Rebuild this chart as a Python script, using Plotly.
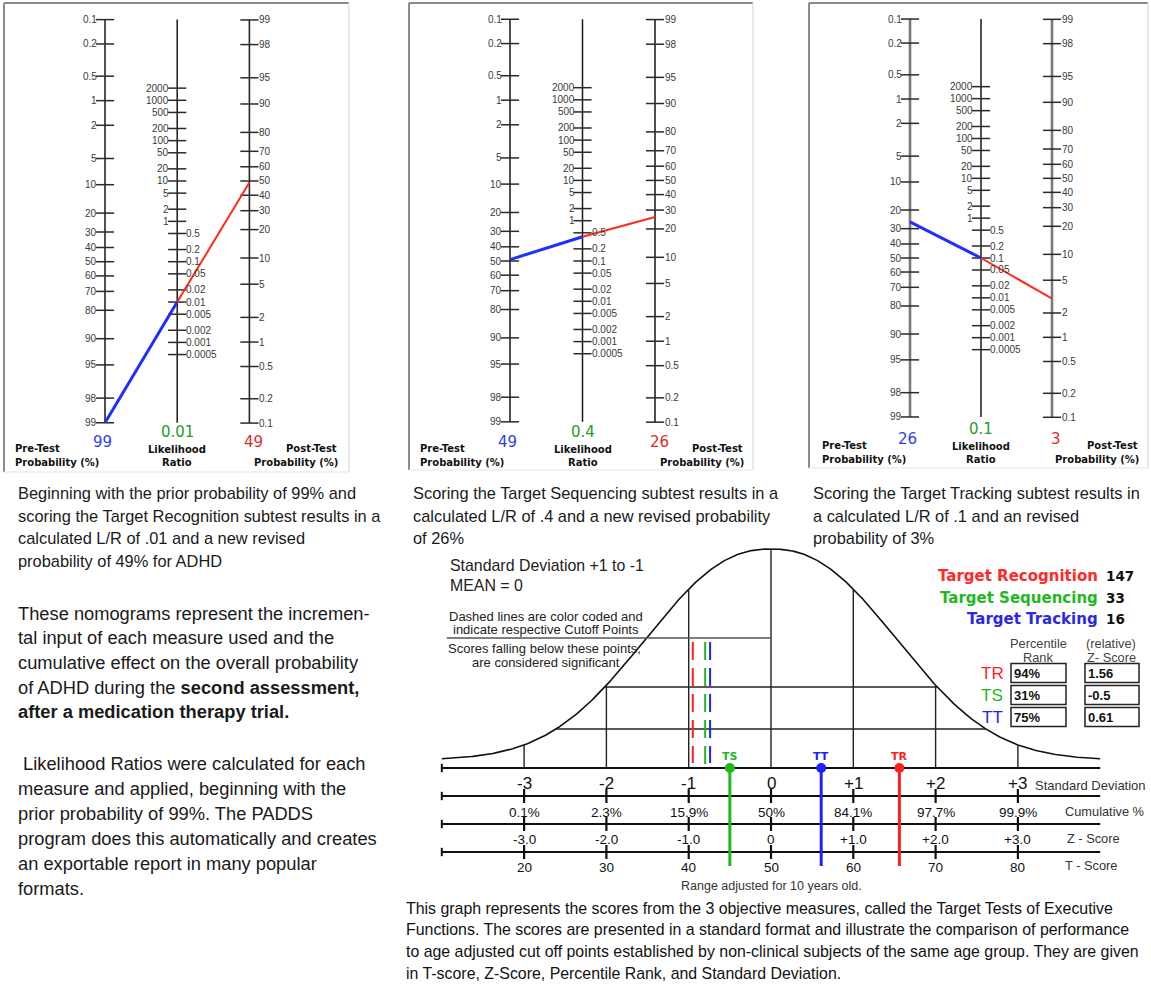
import math
import numpy as np
import plotly.graph_objects as go

W, H = 1151, 989
SANS = "Liberation Sans, Arial, sans-serif"
VERD = "DejaVu Sans, Verdana, sans-serif"

# ---------------- data ----------------
pre_ticks = [0.1, 0.2, 0.5, 1, 2, 5, 10, 20, 30, 40, 50, 60, 70, 80, 90, 95, 98, 99]
post_ticks = [99, 98, 95, 90, 80, 70, 60, 50, 40, 30, 20, 10, 5, 2, 1, 0.5, 0.2, 0.1]
lr_ticks_hi = [2000, 1000, 500, 200, 100, 50, 20, 10, 5, 2, 1]
lr_ticks_lo = [0.5, 0.2, 0.1, 0.05, 0.02, 0.01, 0.005, 0.002, 0.001, 0.0005]

pre_test = [99, 49, 26]
likelihood_ratio = [0.01, 0.4, 0.1]
lr_text = ["0.01", "0.4", "0.1"]
post_test = [49, 26, 3]

sd_ticks = [-3, -2, -1, 0, 1, 2, 3]
sd_labels = ["-3", "-2", "-1", "0", "+1", "+2", "+3"]
cum_labels = ["0.1%", "2.3%", "15.9%", "50%", "84.1%", "97.7%", "99.9%"]
z_labels = ["-3.0", "-2.0", "-1.0", "0", "+1.0", "+2.0", "+3.0"]
t_labels = ["20", "30", "40", "50", "60", "70", "80"]

tests = ["Target Recognition", "Target Sequencing", "Target Tracking"]
test_codes = ["TR", "TS", "TT"]
raw_scores = [147, 33, 16]
percentile_rank = ["94%", "31%", "75%"]
z_scores = [1.56, -0.5, 0.61]
z_text = ["1.56", "-0.5", "0.61"]
cutoffs = [-0.95, -0.80, -0.74]

captions = [
    ["Beginning with the prior probability of 99% and",
     "scoring the Target Recognition subtest results in a",
     "calculated L/R of .01 and a new revised",
     "probability of 49% for ADHD"],
    ["Scoring the Target Sequencing subtest results in a",
     "calculated L/R of .4 and a new revised probability",
     "of 26%"],
    ["Scoring the Target Tracking subtest results in",
     "a calculated L/R of .1 and an revised",
     "probability of 3%"],
]
para2 = ["These nomograms represent the incremen-",
         "tal input of each measure used and the",
         "cumulative effect on the overall probability",
         "of ADHD during the <b>second assessment,</b>",
         "<b>after a medication therapy trial.</b>"]
para3 = ["&nbsp;Likelihood Ratios were calculated for each",
         "measure and applied, beginning with the",
         "prior probability of 99%. The PADDS",
         "program does this automatically and creates",
         "an exportable report in many popular",
         "formats."]
bottom_para = ["This graph represents the scores from the 3 objective measures, called the Target Tests of Executive",
               "Functions. The scores are presented in a standard format and illustrate the comparison of performance",
               "to age adjusted cut off points established by non-clinical subjects of the same age group. They are given",
               "in T-score, Z-Score, Percentile Rank, and Standard Deviation."]

RED, GREEN, BLUE = "#ff1f1f", "#1fb81f", "#1f1fff"
test_colors = [RED, GREEN, BLUE]

# ---------------- axes helpers ----------------
fig = go.Figure()
layout_axes = {}
ann = []
shapes = []


def add_axes(idx, px0, sx, py0, sy):
    xr = [(0 - px0) / sx, (W - px0) / sx]
    yr = [(H - py0) / sy, (0 - py0) / sy]
    xk = "xaxis" if idx == 1 else f"xaxis{idx}"
    yk = "yaxis" if idx == 1 else f"yaxis{idx}"
    xd = dict(range=xr, domain=[0, 1], visible=False, fixedrange=True)
    yd = dict(range=yr, domain=[0, 1], visible=False, fixedrange=True)
    if idx != 1:
        xd.update(overlaying="x", anchor=f"y{idx}")
        yd.update(overlaying="y", anchor=f"x{idx}")
    layout_axes[xk] = xd
    layout_axes[yk] = yd
    return ("x" if idx == 1 else f"x{idx}", "y" if idx == 1 else f"y{idx}")


def T(x, y, text, size=12, color="#222", xa="left", ya="middle", xref="x", yref="y",
      family=SANS, bold=False, xshift=0, yshift=0):
    if bold:
        text = f"<b>{text}</b>"
    ann.append(dict(x=x, y=y, xref=xref, yref=yref, text=text, showarrow=False,
                    xanchor=xa, yanchor=ya, xshift=xshift, yshift=yshift,
                    font=dict(size=size, color=color, family=family)))


def line(x, y, xr, yr, color="#000", width=1.5, dash=None):
    fig.add_trace(go.Scatter(x=x, y=y, xaxis=xr, yaxis=yr, mode="lines",
                             line=dict(color=color, width=width, dash=dash),
                             hoverinfo="skip", showlegend=False))


def seg(x0, y0, x1, y1, color, width, xref="x", yref="y"):
    shapes.append(dict(type="line", x0=x0, y0=y0, x1=x1, y1=y1, xref=xref, yref=yref,
                       line=dict(color=color, width=width)))


# pixel base axis
PX, PY = add_axes(1, 0, 1, 0, 1)

# ---------------- nomograms ----------------
LN10 = math.log(10)


def logit(p):
    return math.log(p / (100.0 - p))


def u_pre(p):
    return logit(p)


def u_post(p):
    return -LN10 - logit(p)


def u_lr(r):
    return -(LN10 + math.log(r)) / 2


panels = [
    dict(x0=105, dx=72.2, y0=261.7, k=35.05, frame=(4, 3, 349, 472), dy=0,
         side_col="#262626", side_w=1.6),
    dict(x0=510, dx=72.5, y0=261.0, k=35.0, frame=(409, 3, 753, 470), dy=0,
         side_col="#303030", side_w=1.7),
    dict(x0=910, dx=71.0, y0=258.0, k=34.6, frame=(809, 3, 1148, 468), dy=-3,
         side_col="#7a7a7a", side_w=2.6),
]

for i, pn in enumerate(panels):
    xr, yr = add_axes(i + 2, pn["x0"], pn["dx"], pn["y0"], pn["k"])
    fx0, fy0, fx1, fy1 = pn["frame"]
    seg(fx0, fy0, fx1, fy0, "#8c8c8c", 2)
    seg(fx0, fy0, fx0, fy1, "#8c8c8c", 2)
    seg(fx1, fy0, fx1, fy1, "#e2e2e2", 1.5)
    seg(fx0, fy1, fx1, fy1, "#ececec", 1.5)

    top, bot = u_pre(min(pre_ticks)), u_pre(max(pre_ticks))
    line([0, 0], [top, bot], xr, yr, pn["side_col"], pn["side_w"])
    line([1, 1], [top, bot], xr, yr, "#1a1a1a", 1.5)
    line([2, 2], [u_post(max(post_ticks)), u_post(min(post_ticks))], xr, yr, pn["side_col"], pn["side_w"])

    tick_sets = [
        ([0] * len(pre_ticks), [u_pre(v) for v in pre_ticks]),
        ([1] * len(lr_ticks_hi + lr_ticks_lo), [u_lr(v) for v in lr_ticks_hi + lr_ticks_lo]),
        ([2] * len(post_ticks), [u_post(v) for v in post_ticks]),
    ]
    for tx, ty in tick_sets:
        fig.add_trace(go.Scatter(x=tx, y=ty, xaxis=xr, yaxis=yr, mode="markers",
                                 marker=dict(symbol="line-ew", size=13,
                                             line=dict(color="#2a2a2a", width=1.5)),
                                 hoverinfo="skip", showlegend=False))
    for v in pre_ticks:
        T(0, u_pre(v), f"{v:g}", 10, "#3a3a3a", "right", xref=xr, yref=yr, xshift=-6)
    for v in lr_ticks_hi:
        T(1, u_lr(v), f"{v:g}", 10, "#3a3a3a", "right", xref=xr, yref=yr, xshift=-6)
    for v in lr_ticks_lo:
        T(1, u_lr(v), f"{v:g}", 10, "#3a3a3a", "left", xref=xr, yref=yr, xshift=7)
    for v in post_ticks:
        T(2, u_post(v), f"{v:g}", 10, "#3a3a3a", "left", xref=xr, yref=yr, xshift=8)

    # result lines
    line([0, 1], [u_pre(pre_test[i]), u_lr(likelihood_ratio[i])], xr, yr, "#1f2fff", 3)
    line([1, 2], [u_lr(likelihood_ratio[i]), u_post(post_test[i])], xr, yr, "#ff2a1a", 2)

    dy = pn["dy"]
    T(-1.27, 448 + dy, "Pre-Test", 10, "#111", "left", xref=xr, yref=PY, family=VERD, bold=True)
    T(-1.27, 462 + dy, "Probability (%)", 10, "#111", "left", xref=xr, yref=PY, family=VERD, bold=True)
    T(-0.04, 442 + dy, f"{pre_test[i]}", 15, "#2f3fe6", "center", xref=xr, yref=PY, family=VERD)
    T(1, 432 + dy, lr_text[i], 15, "#2a9a2a", "center", xref=xr, yref=PY, family=VERD)
    T(1, 449 + dy, "Likelihood", 10, "#111", "center", xref=xr, yref=PY, family=VERD, bold=True)
    T(1, 462 + dy, "Ratio", 10, "#111", "center", xref=xr, yref=PY, family=VERD, bold=True)
    T(2.06, 442 + dy, f"{post_test[i]}", 15, "#e02a2a", "center", xref=xr, yref=PY, family=VERD)
    T(3.24, 448 + dy, "Post-Test", 10, "#111", "right", xref=xr, yref=PY, family=VERD, bold=True)
    T(3.26, 462 + dy, "Probability (%)", 10, "#111", "right", xref=xr, yref=PY, family=VERD, bold=True)

# ---------------- text blocks ----------------
cap_x = [16, 411, 811]
for cx, lines in zip(cap_x, captions):
    for j, s in enumerate(lines):
        T(cx, 493 + j * 22.5, s, 16.4, "#1a1a1a", "left")
for j, s in enumerate(para2):
    T(16, 613 + j * 24.7, s, 18.3, "#1a1a1a", "left")
for j, s in enumerate(para3):
    T(16, 763 + j * 25, s, 18.3, "#1a1a1a", "left")
for j, s in enumerate(bottom_para):
    T(404, 908 + j * 21.7, s, 15.9, "#111", "left")

# ---------------- bell chart ----------------
BX, BY = add_axes(5, 771, 82.3, 768, -1)


def bell(z):
    return 8 + 211 * np.exp(-(np.abs(z) / 1.968) ** 2.3)


def cross(h):
    return 1.968 * (-math.log((h - 8) / 211.0)) ** (1 / 2.3)


zz = np.linspace(-4, 4, 401)
line(zz, bell(zz), BX, BY, "#111", 1.6)
for z in sd_ticks:
    line([z, z], [0, float(bell(z))], BX, BY, "#222", 1.4)
# separators
line([-3.94, 0], [130, 130], BX, BY, "#555", 1.4)
for h in (81, 39):
    c = cross(h)
    line([-c, c], [h, h], BX, BY, "#222", 1.5)

# cutoff dashed lines
for cz, col, lo in zip(cutoffs, test_colors, [5, -4, 5]):
    line([cz, cz], [126, lo], BX, BY, col, 2, dash="18px,8px")

# axis rows
rows_h = [0, -28, -56, -84]
for h in rows_h:
    line([-4, 4], [h, h], BX, BY, "#111", 2.2)
for h in rows_h[1:]:
    fig.add_trace(go.Scatter(x=sd_ticks, y=[h] * len(sd_ticks), xaxis=BX, yaxis=BY, mode="markers",
                             marker=dict(symbol="line-ns", size=10, line=dict(color="#111", width=2.2)),
                             hoverinfo="skip", showlegend=False))
fig.add_trace(go.Scatter(x=[-4, -4, -4, -4], y=rows_h, xaxis=BX, yaxis=BY, mode="markers",
                         marker=dict(symbol="line-ns", size=6, line=dict(color="#111", width=2)),
                         hoverinfo="skip", showlegend=False))

for z, a, b, c, d in zip(sd_ticks, sd_labels, cum_labels, z_labels, t_labels):
    T(z, 783, a, 17, "#111", "center", xref=BX, yref=PY)
    T(z, 812, b, 13.5, "#111", "center", xref=BX, yref=PY)
    T(z, 839, c, 13.5, "#111", "center", xref=BX, yref=PY)
    T(z, 867, d, 13.5, "#111", "center", xref=BX, yref=PY)
T(1033, 785, "Standard Deviation", 13, "#333", "left")
T(1063, 811, "Cumulative %", 12.8, "#333", "left")
T(1065, 838, "Z - Score", 12.8, "#333", "left")
T(1063, 865, "T - Score", 12.8, "#333", "left")
T(771, 886, "Range adjusted for 10 years old.", 12.5, "#333", "center")

# score markers
for z, col, code in zip(z_scores, test_colors, test_codes):
    line([z, z], [0, -98], BX, BY, col, 3)
    fig.add_trace(go.Scatter(x=[z], y=[0], xaxis=BX, yaxis=BY, mode="markers",
                             marker=dict(symbol="circle", size=10, color=col),
                             hoverinfo="skip", showlegend=False))
    T(z, 12, code, 11, col, "center", xref=BX, yref=BY, bold=True, family=VERD)

# notes upper-left
T(448, 565, "Standard Deviation +1 to -1", 15.9, "#222", "left")
T(448, 585, "MEAN = 0", 15.9, "#222", "left")
T(546, 616, "Dashed lines are color coded and", 13, "#222", "center")
T(546, 629, "indicate respective Cutoff Points", 13, "#222", "center")
T(544, 648, "Scores falling below these points,", 13, "#222", "center")
T(546, 662, "are considered significant", 13, "#222", "center")

# legend of tests
for j, (name, col, sc) in enumerate(zip(tests, ["#ff2a2a", "#22b822", "#2a2ae6"], raw_scores)):
    y = 576 + j * 21.5
    T(1100, y, name, 15, col, "right", family=VERD, bold=True)
    T(1104, y, f"{sc}", 13.5, "#111", "left", family=VERD, bold=True)

# table
T(1038, 643, "Percentile", 12.8, "#444", "center")
T(1038, 657, "Rank", 12.8, "#444", "center")
T(1111, 643, "(relative)", 12.8, "#444", "center")
T(1111, 657, "Z- Score", 12.8, "#444", "center")
for j, (code, col, pr, zt) in enumerate(zip(test_codes, test_colors, percentile_rank, z_text)):
    yc = 673 + j * 22
    T(992, yc, code, 17, col, "center")
    for (bx0, bx1), txt in zip([(1011, 1066), (1085, 1139)], [pr, zt]):
        shapes.append(dict(type="rect", x0=bx0, x1=bx1, y0=yc - 9.5, y1=yc + 9.5, xref="x", yref="y",
                           line=dict(color="#222", width=1.5)))
        T(bx0 + 1, yc, txt, 13, "#111", "left", bold=True)

fig.update_layout(width=W, height=H, margin=dict(l=0, r=0, t=0, b=0),
                  paper_bgcolor="white", plot_bgcolor="white",
                  annotations=ann, shapes=shapes, showlegend=False, **layout_axes)
fig.write_html("out.html", config={"displayModeBar": False},
               post_script="document.body.style.margin='0';document.body.style.overflow='hidden';")
